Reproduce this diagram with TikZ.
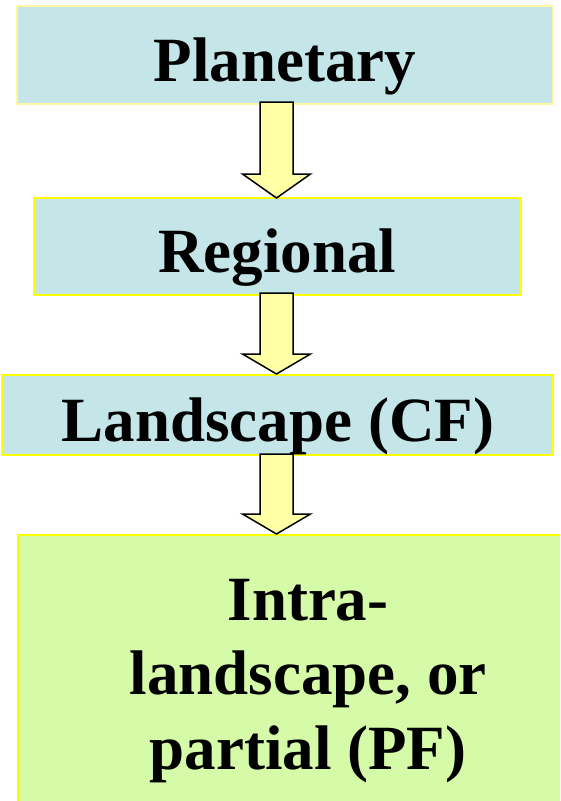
\documentclass[tikz,border=0pt]{standalone}
\usepackage{fontspec}
\setmainfont{Liberation Serif}
\usetikzlibrary{calc}
\definecolor{boxblue}{HTML}{C4E6E8}
\definecolor{boxgreen}{HTML}{D6FBA8}
\definecolor{edgepale}{HTML}{FFF6A0}
\definecolor{edgeyellow}{HTML}{FFFF00}
\definecolor{arrowfill}{HTML}{FFFFA6}
\newcommand\flowarr[3]{%
  \draw[flowarrow] ($(#1)+(-16.5,0)$) -- ($(#2)+(-16.5,-#3)$) -- ($(#2)+(-34,-#3)$)
    -- (#2) -- ($(#2)+(34,-#3)$) -- ($(#2)+(16.5,-#3)$) -- ($(#1)+(16.5,0)$) -- cycle;}
\begin{document}
\begin{tikzpicture}[x=1pt,y=-1pt,
  levelbox/.style={rectangle, inner sep=0pt, line width=2pt},
  bluebox/.style={levelbox, fill=boxblue, draw=edgeyellow},
  greenbox/.style={levelbox, fill=boxgreen, draw=edgeyellow},
  lbl/.style={font=\fontsize{63}{74.5}\selectfont\bfseries, inner sep=0pt, anchor=base},
  flowarrow/.style={fill=arrowfill, draw=black, line width=1.5pt, line join=miter}]
\useasboundingbox (0,0) rectangle (560,801);
\clip (0,0) rectangle (560,801);
% boxes
\node[bluebox, draw=edgepale, minimum width=536pt, minimum height=98pt] (planetary) at (285,55) {};
\node[bluebox, minimum width=487pt, minimum height=97pt] (regional) at (277.5,246.5) {};
\node[bluebox, minimum width=551pt, minimum height=80pt] (landscape) at (277.5,415) {};
\node[greenbox, minimum width=582pt, minimum height=300pt, anchor=north west] (intra) at (17,534) {};
% texts
\node[lbl] (tplanetary) at (285,81) {Planetary};
\node[lbl] (tregional) at (277.5,272.5) {Regional};
\node[lbl] (tlandscape) at (278,441) {Landscape (CF)};
\node[lbl] (tintra1) at (308,620) {Intra-};
\node[lbl] (tintra2) at (308,694.5) {landscape, or};
\node[lbl] (tintra3) at (308,769) {partial (PF)};
% connector coordinates
\coordinate (a1s) at (276.5,102);
\coordinate (a1e) at (276.5,198);
\coordinate (a2s) at (276.5,293);
\coordinate (a2e) at (276.5,374);
\coordinate (a3s) at (276.5,454);
\coordinate (a3e) at (276.5,534);
\flowarr{a1s}{a1e}{24}
\flowarr{a2s}{a2e}{20}
\flowarr{a3s}{a3e}{20}
\end{tikzpicture}
\end{document}
